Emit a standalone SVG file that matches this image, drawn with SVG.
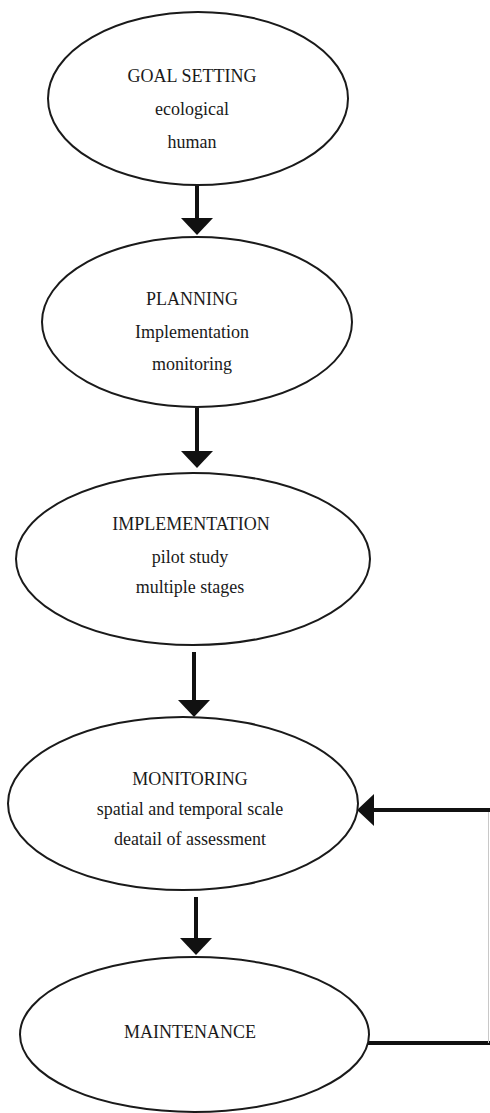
<svg xmlns="http://www.w3.org/2000/svg" width="490" height="1113" viewBox="0 0 490 1113">
  <style>
    .node ellipse { fill: #ffffff; stroke: #1a1a1a; stroke-width: 2; }
    .node text { font-family: "Liberation Serif", "Times New Roman", serif; font-size: 18px; fill: #1a1a1a; text-anchor: middle; }
    .conn { fill: none; stroke: #111111; stroke-width: 4; }
    .thin { fill: none; stroke: #c8c8c8; stroke-width: 1; }
  </style>
  <defs>
    <marker id="head" viewBox="0 0 17 32" refX="7" refY="16" markerWidth="17" markerHeight="32" markerUnits="userSpaceOnUse" orient="auto">
      <path d="M0,0 L17,16 L0,32 Z" fill="#111111"/>
    </marker>
  </defs>
  <rect width="490" height="1113" fill="#ffffff"/>

  <g id="connectors">
    <path class="conn" d="M197,177 V225" marker-end="url(#head)"/>
    <path class="conn" d="M197,408 V458" marker-end="url(#head)"/>
    <path class="conn" d="M194,652 V707" marker-end="url(#head)"/>
    <path class="conn" d="M196,897 V945" marker-end="url(#head)"/>
    <path class="conn" d="M368,1043 H490"/>
    <path class="thin" d="M488.5,810 V1043"/>
    <path class="conn" d="M490,810 H367" marker-end="url(#head)"/>
  </g>

  <g id="goal-setting" class="node">
    <ellipse cx="198" cy="98.5" rx="150" ry="86.5"/>
    <text x="192" y="82">GOAL SETTING</text>
    <text x="192" y="115">ecological</text>
    <text x="192" y="148">human</text>
  </g>

  <g id="planning" class="node">
    <ellipse cx="197" cy="322" rx="155" ry="85"/>
    <text x="192" y="305">PLANNING</text>
    <text x="192" y="338">Implementation</text>
    <text x="192" y="370">monitoring</text>
  </g>

  <g id="implementation" class="node">
    <ellipse cx="193" cy="559" rx="177" ry="86"/>
    <text x="191" y="530">IMPLEMENTATION</text>
    <text x="190" y="563">pilot study</text>
    <text x="190" y="593">multiple stages</text>
  </g>

  <g id="monitoring" class="node">
    <ellipse cx="183" cy="803.5" rx="175" ry="86.5"/>
    <text x="190" y="785">MONITORING</text>
    <text x="190" y="815">spatial and temporal scale</text>
    <text x="190" y="845">deatail of assessment</text>
  </g>

  <g id="maintenance" class="node">
    <ellipse cx="194.5" cy="1034.5" rx="174.5" ry="77.5"/>
    <text x="190" y="1038">MAINTENANCE</text>
  </g>
</svg>
